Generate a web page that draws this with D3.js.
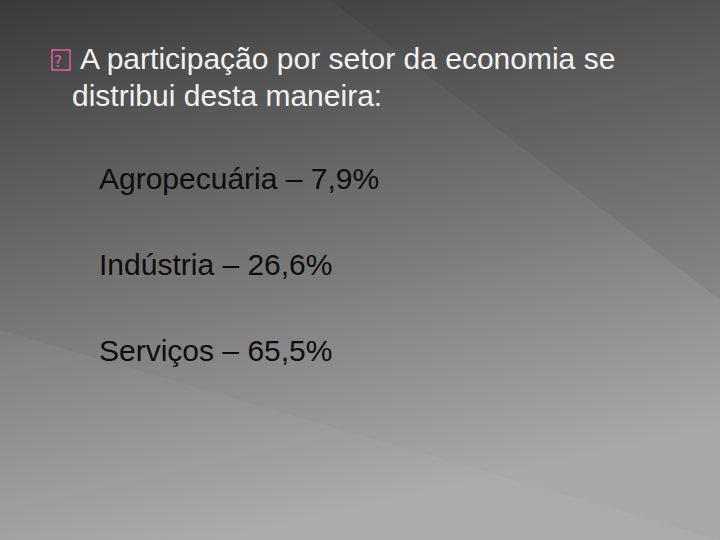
<!DOCTYPE html><html><head><meta charset="utf-8"><script src="https://cdn.jsdelivr.net/npm/d3@7"></script>
<style>body{margin:0}svg{display:block}</style></head><body><script>
const categories=["Agropecuária","Indústria","Serviços"];
const values=["7,9","26,6","65,5"];
const titleLines=["A participação por setor da economia se","distribui desta maneira:"];
const W=720,H=540;
const svg=d3.select("body").append("svg").attr("width",W).attr("height",H);
const defs=svg.append("defs");
const g=defs.append("linearGradient").attr("id","bg").attr("x1",0).attr("y1",0).attr("x2",0.3).attr("y2",1);
g.append("stop").attr("offset","0").attr("stop-color","#3a3a3a");
g.append("stop").attr("offset","1").attr("stop-color","#a8a8a8");
svg.append("rect").attr("width",W).attr("height",H).attr("fill","url(#bg)");
svg.append("path").attr("d","M330,0 L720,0 L720,300 Z").attr("fill","#000").attr("opacity",0.06);
svg.append("path").attr("d","M0,540 L0,330 L720,540 Z").attr("fill","#fff").attr("opacity",0.04);
svg.append("rect").attr("x",52).attr("y",50).attr("width",18).attr("height",20).attr("fill","none").attr("stroke","#e0609f").attr("stroke-width",1.5);
svg.append("text").attr("x",54).attr("y",67).attr("font-family","DejaVu Sans").attr("font-size",15).attr("fill","#e0609f").text("?");
const t=svg.append("text").attr("font-family","Liberation Sans, Arial").attr("font-size",30).attr("fill","#f2f2f2");
t.selectAll("tspan").data(titleLines).join("tspan").attr("x",(d,i)=>i?72:80).attr("y",(d,i)=>69+i*37).text(d=>d);
const y=d3.scalePoint().domain(categories).range([189,361]);
svg.selectAll("text.item").data(categories).join("text").attr("class","item")
 .attr("x",99).attr("y",d=>y(d)).attr("font-family","Liberation Sans, Arial").attr("font-size",30).attr("fill","#0d0d0d")
 .text((d,i)=>`${d} – ${values[i]}%`);
</script></body></html>
